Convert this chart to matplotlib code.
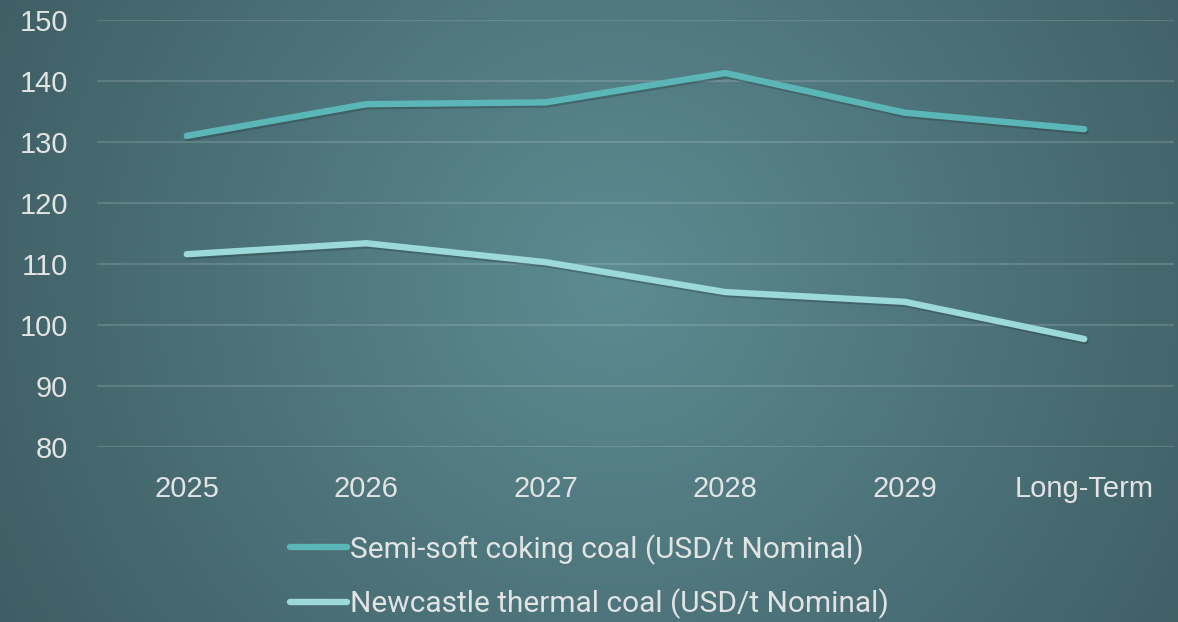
import numpy as np
import matplotlib
matplotlib.use("Agg")
import matplotlib.pyplot as plt
import matplotlib.patheffects as pe

# data
categories = ["2025", "2026", "2027", "2028", "2029", "Long-Term"]
coking = [131.0, 136.2, 136.5, 141.3, 134.8, 132.1]
thermal = [111.6, 113.4, 110.3, 105.4, 103.8, 97.7]
series_names = ["Semi-soft coking coal (USD/t Nominal)",
                "Newcastle thermal coal (USD/t Nominal)"]
y_ticks = [80, 90, 100, 110, 120, 130, 140, 150]

TEXT = "#E2E4E4"
C_COKING = "#5BB6B7"
C_THERMAL = "#9CD9DB"

fig = plt.figure(figsize=(11.78, 6.22), dpi=100)

# radial gradient background
bg = fig.add_axes([0, 0, 1, 1], zorder=-10)
h, w = 311, 589
yy, xx = np.mgrid[0:h, 0:w]
cx, cy = 0.52 * w, 0.45 * h
r = np.sqrt(((xx - cx) / (0.62 * w)) ** 2 + ((yy - cy) / (0.62 * w)) ** 2)
r = np.clip(r, 0, 1)
inner = np.array([0x5C, 0x8B, 0x91]) / 255
outer = np.array([0x3D, 0x5B, 0x62]) / 255
img = inner[None, None, :] * (1 - r[..., None]) + outer[None, None, :] * r[..., None]
bg.imshow(img, aspect="auto", extent=[0, 1, 0, 1], origin="upper")
bg.axis("off")

ax = fig.add_axes([97 / 1178, 1 - 447 / 622, 1077 / 1178, 427 / 622])
ax.patch.set_alpha(0)

x = np.arange(len(categories))
shadow = [pe.SimpleLineShadow(offset=(1, -1.5), shadow_color="#1E3034", alpha=0.3),
          pe.Normal()]
ax.plot(x, coking, color=C_COKING, lw=4.6, solid_capstyle="round",
        solid_joinstyle="round", label=series_names[0], path_effects=shadow, zorder=3)
ax.plot(x, thermal, color=C_THERMAL, lw=4.6, solid_capstyle="round",
        solid_joinstyle="round", label=series_names[1], path_effects=shadow, zorder=3)

ax.set_xlim(-0.5, len(categories) - 0.5)
ax.set_ylim(80, 150)
ax.set_yticks(y_ticks)
ax.set_xticks(x)
ax.set_xticklabels(categories)
ax.grid(axis="y", color="white", alpha=0.14, lw=1.5)
ax.set_axisbelow(True)
for s in ax.spines.values():
    s.set_visible(False)
ax.tick_params(axis="both", length=0, colors=TEXT, labelsize=21)
ax.tick_params(axis="y", pad=21)
ax.tick_params(axis="x", pad=20)
for lab in ax.get_xticklabels() + ax.get_yticklabels():
    lab.set_fontfamily("Liberation Sans")

leg = fig.legend(loc="upper left", bbox_to_anchor=(263 / 1178, 1 - 507 / 622),
                 frameon=False, handlelength=1.9, handletextpad=0.1,
                 labelspacing=0.8, borderpad=0.4,
                 prop={"family": "Roboto", "size": 21.5})
for t in leg.get_texts():
    t.set_color(TEXT)
for lh in leg.get_lines():
    lh.set_path_effects([])
    lh.set_linewidth(4.6)

fig.savefig("out.png", dpi=100)
